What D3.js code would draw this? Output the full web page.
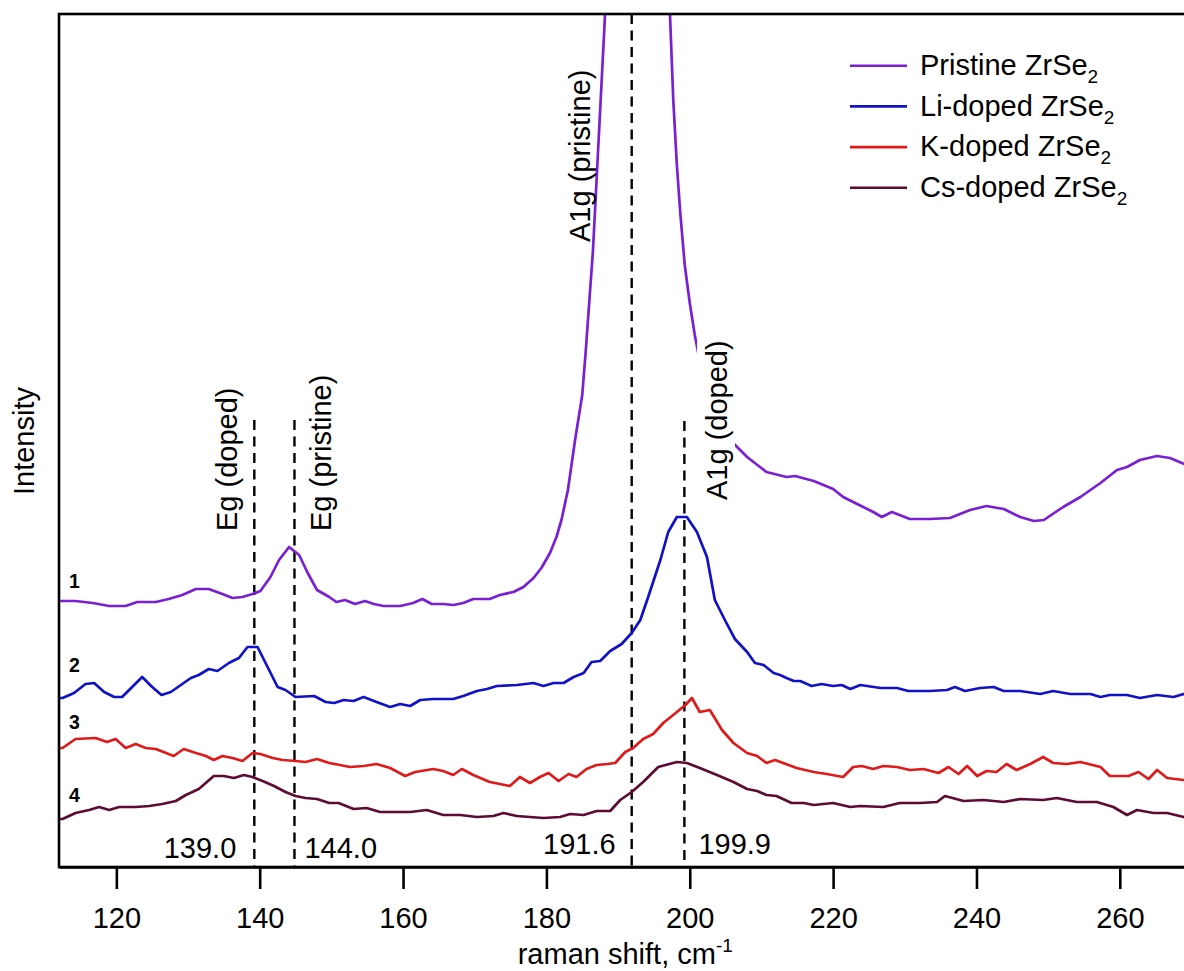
<!DOCTYPE html>
<html><head><meta charset="utf-8">
<script src="https://cdn.jsdelivr.net/npm/d3@7"></script>
<style>
body{margin:0;background:#fff}
text{font-family:"Liberation Sans",Arial,Helvetica,sans-serif;fill:#000}
</style>
</head><body><svg id="c" width="1184" height="971"></svg>
<script>
// ---- data (raman shift in cm^-1, intensity in arbitrary units) ----
const pristineShift = [112,112.5,114.3,116.7,119,121.3,122.9,125.5,127.3,129.2,131.1,132.9,134.8,136.2,137.6,139,140.1,141.5,142.7,144.1,145.5,146.7,148,149.7,150.7,151.9,153.3,154.7,155.9,157.3,159.6,161.4,162.7,164,165.6,167,168.4,169.8,172.1,173.5,175.4,176.8,178.2,179.3,180.5,181.4,182.1,183,184,185,185.5,186,186.5,187,187.5,188,188.5,189.5,190.5,191.5,192.5,193.5,194.5,195.5,196.5,197.25,197.7,198.2,198.7,199.3,200,200.7,201.5,202.5,203.5,204.5,205.9,208,210.7,213.5,214.7,217.3,220,221.4,224.2,225.6,226.8,228.2,230.7,233.5,236.3,239.1,241.4,243.8,246.1,248,249.4,252.1,254.5,257.3,259.6,261,262.8,265.2,267,269,270];
const pristineIntensity = [266,266,266,264,261,261,265,265,268,272,278,278,273,269,270,273,276,290,307,320,312,294,277,270,265,267,263,266,263,261,261,264,268,263,263,262,264,268,268,272,275,280,289,299,314,330,347,377,427,472,517,567,617,687,757,827,900,1100,1300,1450,1500,1450,1300,1150,980,851,767,702,652,602,564,532,502,477,457,442,425,410,395,390,391,386,378,370,360,355,350,355,348,348,349,357,361,358,350,346,347,360,370,384,397,400,407,411,409,403,400];

const liShift = [112,112.5,114.1,115.7,116.9,118.3,119.7,120.8,123.6,125,126.3,127.6,129,130.4,131.5,132.9,134.1,135.7,137.1,138.3,139.7,141.1,142.5,143.6,145,147.6,149.2,150.4,151.7,153.1,154.5,156.3,158.2,159.6,161,162.4,164.2,167,168.4,170.3,171.7,173.1,175.9,178.2,179.6,181,182.4,183.8,185.2,186.3,187.5,188.9,190.5,191.9,193.1,194.2,195.9,197,198.2,199.6,201,202.4,203.5,204.9,206.3,208,209.1,210.3,211.7,212.6,213.5,214.5,215.4,217,218.4,220,221.2,222.4,223.8,226.6,228.9,230.5,233.5,235.9,237,238.4,240.5,242.4,243.8,246.1,248.9,250.7,253.1,255.9,257.3,258.6,261,262.8,265.2,267.5,268.9,270];
const liIntensity = [169,169,174,183,184,175,170,170,190,180,172,175,182,189,192,198,196,204,209,220,220,200,180,177,170,171,165,164,167,166,170,165,160,163,161,167,168,168,171,176,178,181,182,184,181,184,184,190,194,205,206,216,223,234,247,270,307,335,350,350,335,310,267,247,228,215,204,202,194,192,189,186,186,181,183,181,182,178,182,179,179,176,176,177,180,176,179,180,176,176,173,176,173,173,170,172,172,169,172,170,173,172];

const kShift = [112,112.5,114.3,117.1,118.7,119.9,121.3,122.7,124.1,125.5,128,129.4,131.1,132.5,133.6,134.8,136.2,137.6,139,140.1,141.8,143.2,145,146.4,148,149.7,151.2,152.6,154.5,156.3,158.2,160.3,161.7,164.2,165.6,167,168.2,169.8,172.1,174.9,176.3,177.7,179.1,180.3,181.7,183.1,184.2,185.6,187,188.5,189.6,191,192.1,193.5,194.9,196.3,198.2,199.4,200.3,201.4,202.8,204.5,206.1,208,209.4,210.7,211.9,214.9,217.3,219.1,221.4,222.8,224,225.6,227,228.9,230.7,232.6,234.7,236.1,237.5,238.7,240.1,241.4,242.8,244.2,245.6,247.5,249.3,250.7,252.6,254.5,257.3,258.6,261.2,262.6,264,265.2,266.6,268.9,270];
const kIntensity = [119,119,128,129,125,128,119,123,119,118,111,118,114,111,107,111,109,106,114,113,109,107,106,105,108,104,102,100,101,103,99,91,95,98,96,92,98,92,85,81,90,84,90,94,86,93,90,98,102,103,104,115,119,128,133,144,155,162,169,155,157,137,124,114,111,104,107,99,95,93,90,100,101,98,101,100,97,98,94,100,93,101,91,96,95,103,97,103,110,104,103,105,100,91,91,95,88,97,89,87,87];

const csShift = [112,112.5,114.3,116.2,117.6,119,120.4,122.7,124.6,126.4,128.3,129.7,131.5,133.6,135,136.4,137.8,139,140.4,142,143.6,145,146.4,148,149.7,151,153.1,154.9,156.8,159.1,161,163.3,165.6,168,170.3,172.6,174,175.9,177.7,179.6,181.9,183.3,185.2,187,188.9,190.3,191.9,193.5,195.6,198.2,199.6,201.4,203.8,206.1,208,209.4,210.7,212.1,214.2,215.9,217.3,220,222.4,223.8,227,229.3,232.1,234.5,235.6,238.2,241,243.8,246.1,249.3,251.2,254,256.8,259.1,261,262.4,264.7,266.6,268.9,270];
const csIntensity = [48,48,54,57,60,57,60,60,61,63,66,72,78,91,91,89,92,90,86,81,75,71,69,68,64,64,58,59,55,55,55,57,52,52,50,51,54,51,50,49,50,53,52,56,56,67,75,85,100,105,104,99,92,85,78,76,72,71,64,64,62,64,60,61,60,64,64,65,71,66,67,65,68,67,69,65,65,60,52,57,54,54,50,49];

const seriesNames = ["Pristine ZrSe", "Li-doped ZrSe", "K-doped ZrSe", "Cs-doped ZrSe"];
const seriesColors = ["#7b1fd3", "#1111c6", "#e01a1a", "#5e0b33"];
const seriesNumbers = ["1", "2", "3", "4"];
const xTicks = [120, 140, 160, 180, 200, 220, 240, 260];
const peakLinePositions = [139.25, 144.85, 191.9, 199.25];
const peakValueLabels = ["139.0", "144.0", "191.6", "199.9"];
const modeLabels = ["Eg (doped)", "Eg (pristine)", "A1g (pristine)", "A1g (doped)"];

// ---- layout ----
const W = 1184, H = 971;
const L = 59, T = 14, R = 1191.5, B = 867;
const FONT = 29;
const svg = d3.select("#c");
svg.append("rect").attr("width", W).attr("height", H).attr("fill", "#fff");

const x = d3.scaleLinear().domain([112, 270]).range([L, R]);
const y = d3.scaleLinear().domain([0, 853]).range([B, T]);

svg.append("defs").append("clipPath").attr("id", "plotclip")
  .append("rect").attr("x", L).attr("y", T).attr("width", R - L).attr("height", B - T);

const seriesData = [
  d3.zip(pristineShift, pristineIntensity),
  d3.zip(liShift, liIntensity),
  d3.zip(kShift, kIntensity),
  d3.zip(csShift, csIntensity)
];

const line = d3.line().x(d => x(d[0])).y(d => y(d[1]));

// dashed peak lines
const lineTops = [420, 420, T, 421];
const dashG = svg.append("g");
peakLinePositions.forEach((p, i) => {
  dashG.append("line")
    .attr("x1", x(p)).attr("x2", x(p))
    .attr("y1", lineTops[i]).attr("y2", B)
    .attr("stroke", "#000").attr("stroke-width", 2.4)
    .attr("stroke-dasharray", "10,6.5");
});

// curves
const curveG = svg.append("g").attr("clip-path", "url(#plotclip)");
seriesData.slice().reverse().forEach((d, ri) => {
  const i = seriesData.length - 1 - ri;
  curveG.append("path").datum(d)
    .attr("d", line).attr("fill", "none")
    .attr("stroke", seriesColors[i]).attr("stroke-width", 2.7)
    .attr("stroke-linejoin", "round");
});

// frame
svg.append("rect").attr("x", L).attr("y", T).attr("width", R - L).attr("height", B - T)
  .attr("fill", "none").attr("stroke", "#000").attr("stroke-width", 2.6);

// x axis
const axis = d3.axisBottom(x).tickValues(xTicks).tickSize(22).tickSizeOuter(0).tickPadding(18)
  .tickFormat(d3.format("d"));
const ax = svg.append("g").attr("transform", `translate(0,${B})`).call(axis);
ax.select(".domain").attr("stroke", "#000").attr("stroke-width", 2.6);
ax.selectAll(".tick line").attr("stroke", "#000").attr("stroke-width", 2.6);
ax.selectAll(".tick text").attr("font-size", FONT)
  .attr("font-family", '"Liberation Sans",Arial,sans-serif').attr("fill", "#000");

// axis titles
const xt = svg.append("text").attr("x", (L + R) / 2).attr("y", 964)
  .attr("text-anchor", "middle").attr("font-size", FONT);
xt.append("tspan").text("raman shift, cm");
xt.append("tspan").attr("dy", -12).attr("font-size", 19).text("-1");

svg.append("text").attr("transform", "translate(34,441) rotate(-90)")
  .attr("text-anchor", "middle").attr("font-size", FONT).text("Intensity");

// series numbers
const numY = [588, 672, 729, 802];
seriesNumbers.forEach((n, i) => {
  svg.append("text").attr("x", 69).attr("y", numY[i])
    .attr("font-size", 19.5).attr("font-weight", "bold").text(n);
});

// peak value labels
const valPos = [
  {x: x(peakLinePositions[0]) - 18, y: 858, a: "end"},
  {x: x(peakLinePositions[1]) + 10, y: 858, a: "start"},
  {x: x(peakLinePositions[2]) - 16, y: 854, a: "end"},
  {x: x(peakLinePositions[3]) + 14, y: 854, a: "start"}
];
peakValueLabels.forEach((t, i) => {
  svg.append("text").attr("x", valPos[i].x).attr("y", valPos[i].y)
    .attr("text-anchor", valPos[i].a).attr("font-size", FONT).text(t);
});

// mode labels (rotated)
const modePos = [
  {x: 237, y: 531, bg: false},
  {x: 331, y: 531, bg: false},
  {x: 590, y: 242, bg: false},
  {x: 727, y: 500, bg: true}
];
modeLabels.forEach((t, i) => {
  const g = svg.append("g").attr("transform", `translate(${modePos[i].x},${modePos[i].y}) rotate(-90)`);
  const txt = g.append("text").attr("x", 0).attr("y", 0).attr("font-size", FONT).text(t);
  if (modePos[i].bg) {
    const bb = txt.node().getBBox();
    g.insert("rect", "text").attr("x", bb.x - 2).attr("y", bb.y - 4)
      .attr("width", bb.width + 4).attr("height", bb.height + 6).attr("fill", "#fff");
  }
});

// legend
const legY = [65.7, 106.4, 147.1, 187.8];
seriesNames.forEach((n, i) => {
  svg.append("line").attr("x1", 850).attr("x2", 907).attr("y1", legY[i]).attr("y2", legY[i])
    .attr("stroke", seriesColors[i]).attr("stroke-width", 2.6);
  const t = svg.append("text").attr("x", 920).attr("y", legY[i] + 9.3).attr("font-size", FONT);
  t.append("tspan").text(n);
  t.append("tspan").attr("dy", 8).attr("font-size", 19).text("2");
});
</script>
</body></html>
